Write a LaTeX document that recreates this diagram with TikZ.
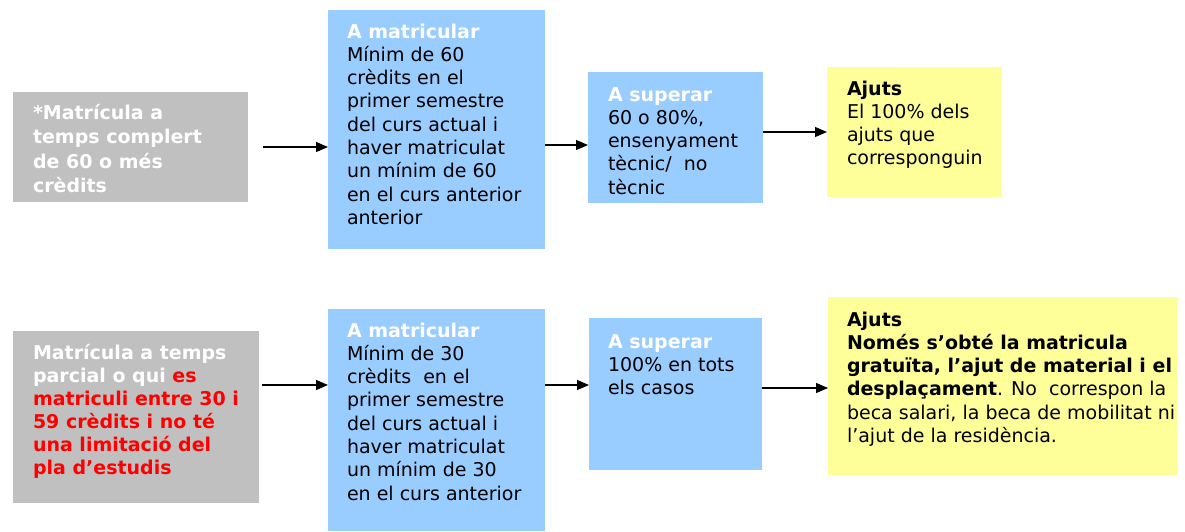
\documentclass[tikz,border=0pt]{standalone}
\usepackage{fontspec}
\setmainfont{DejaVu Sans}
\usepackage{xcolor}
\usetikzlibrary{arrows.meta}
\usetikzlibrary{positioning}

\definecolor{boxgray}{HTML}{C0C0C0}
\definecolor{boxblue}{HTML}{99CCFF}
\definecolor{boxyellow}{HTML}{FFFF99}
\definecolor{textred}{HTML}{FF0000}

\newcommand{\firstline}{\rule{0pt}{16pt}}
\newcommand{\wtitle}[1]{\textcolor{white}{\textbf{#1}}}
\newcommand{\redb}[1]{\textcolor{textred}{#1}}

\begin{document}
\begin{tikzpicture}[x=1pt, y=-1pt,
  every node/.style={font=\fontsize{19}{23.3}\selectfont},
  box/.style={rectangle, inner sep=0pt, outer sep=0pt, anchor=north west},
  txt/.style={inner sep=0pt, outer sep=0pt, anchor=north west, align=left},
  arr/.style={-{Triangle[length=12pt,width=10pt]}, line width=1.2pt}]

\useasboundingbox (0,0) rectangle (1185,531);

% first row
\node[box, fill=boxgray,   minimum width=235pt, minimum height=110pt] (grayA) at (13,92) {};
\node[box, fill=boxblue,   minimum width=217pt, minimum height=239pt] (matA) at (328,10) {};
\node[box, fill=boxblue,   minimum width=175pt, minimum height=131pt] (supA) at (588,72) {};
\node[box, fill=boxyellow, minimum width=175pt, minimum height=130pt] (ajuA) at (827,67) {};

\node[txt, text=white, font=\fontsize{19}{24.5}\selectfont\bfseries] (grayAtext)
    at ([shift={(20,11)}]grayA.north west)
    {\firstline*Matrícula a\\ temps complert\\ de 60 o més\\ crèdits};
\node[txt] (matAtext) at ([shift={(19,12)}]matA.north west)
    {\firstline\wtitle{A matricular}\\ Mínim de 60\\ crèdits en el\\ primer semestre\\
     del curs actual i\\ haver matriculat\\ un mínim de 60\\ en el curs anterior\\ anterior};
\node[txt] (supAtext) at ([shift={(20,13)}]supA.north west)
    {\firstline\wtitle{A superar}\\ 60 o 80\%,\\ ensenyament\\ tècnic/~ no\\ tècnic};
\node[txt] (ajuAtext) at ([shift={(20,12)}]ajuA.north west)
    {\firstline\textbf{Ajuts}\\ El 100\% dels\\ ajuts que\\ corresponguin};

\draw[arr] ([xshift=15pt]grayA.east) -- (grayA.east -| matA.west);
\draw[arr] ([yshift=-15.5pt]matA.east) -- ([yshift=-15.5pt]matA.east -| supA.west);
\draw[arr] (supA.east |- ajuA.west) -- (ajuA.west);

% second row
\node[box, fill=boxgray,   minimum width=246pt, minimum height=172pt] (grayB) at (13,331) {};
\node[box, fill=boxblue,   minimum width=217pt, minimum height=222pt] (matB) at (328,309) {};
\node[box, fill=boxblue,   minimum width=173pt, minimum height=152pt] (supB) at (589,318) {};
\node[box, fill=boxyellow, minimum width=350pt, minimum height=178pt] (ajuB) at (828,297) {};

\node[txt, text=white, font=\fontsize{19}{23}\selectfont\bfseries] (grayBtext)
    at ([shift={(20,12)}]grayB.north west)
    {\firstline Matrícula a temps\\ parcial o qui \redb{es}\\ \redb{matriculi entre 30 i}\\
     \redb{59 crèdits i no té}\\ \redb{una limitació del}\\ \redb{pla d’estudis}};
\node[txt] (matBtext) at ([shift={(19,12)}]matB.north west)
    {\firstline\wtitle{A matricular}\\ Mínim de 30\\ crèdits~ en el\\ primer semestre\\
     del curs actual i\\ haver matriculat\\ un mínim de 30\\ en el curs anterior};
\node[txt] (supBtext) at ([shift={(19,14)}]supB.north west)
    {\firstline\wtitle{A superar}\\ 100\% en tots\\ els casos};
\node[txt] (ajuBtext) at ([shift={(19,13)}]ajuB.north west)
    {\firstline\textbf{Ajuts}\\ \textbf{Només s’obté la matricula}\\
     \textbf{gratuïta, l’ajut de material i el}\\ \textbf{desplaçament}. No~ correspon la\\
     beca salari, la beca de mobilitat ni\\ l’ajut de la residència.};

\draw[arr] ([xshift=3pt,yshift=32pt]grayB.east) -- ([yshift=32pt]grayB.east -| matB.west);
\draw[arr] ([yshift=35pt]matB.east) -- ([yshift=35pt]matB.east -| supB.west);
\draw[arr] ([yshift=6pt]supB.east) -- ([yshift=6pt]supB.east -| ajuB.west);
\end{tikzpicture}
\end{document}
